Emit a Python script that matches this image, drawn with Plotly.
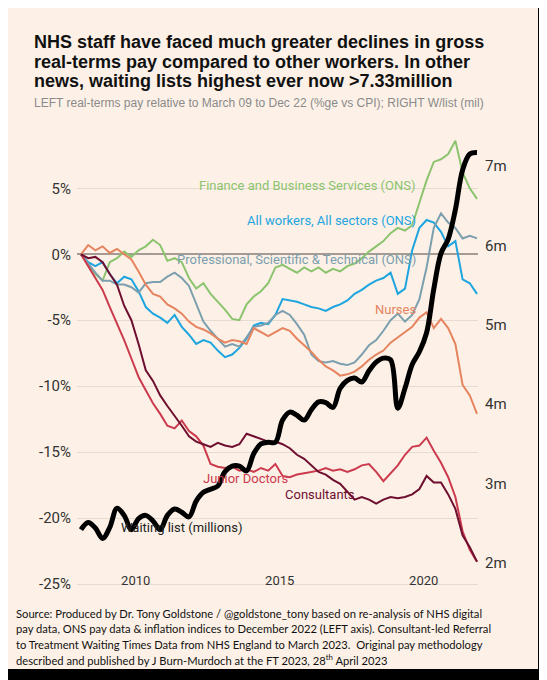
import plotly.graph_objects as go

# quarterly points on the chart's year axis (Mar 09 .. Dec 22 squeezed as drawn)
years = [2008.1 + 0.25 * i for i in range(56)]

finance = [0, -0.8, -1.5, -2.0, -0.6, -0.3, 0.2, -0.2, 0.3, 0.6, 1.1, 0.7, -0.5, -0.3,
           -0.6, -1.8, -2.6, -2.2, -3.0, -3.6, -4.2, -4.9, -5.0, -3.8, -3.2, -2.8, -2.2, -1.0,
           -0.8, -1.1, -1.4, -1.0, -1.3, -1.0, -1.4, -1.1, -1.3, -0.9, -0.7, -0.3, 0.2, 0.6,
           1.0, 1.6, 2.0, 1.8, 2.2, 3.9, 5.6, 7.0, 7.2, 7.6, 8.6, 6.2, 5.0, 4.2]
all_workers = [0, -0.6, -0.9, -0.6, -1.5, -2.2, -1.7, -1.9, -2.8, -4.0, -4.5, -4.8, -5.2, -4.6,
               -5.5, -6.1, -6.8, -6.5, -6.7, -7.3, -7.8, -7.6, -7.1, -6.4, -5.4, -5.2, -5.3, -4.6,
               -3.4, -3.5, -3.6, -3.8, -4.0, -4.1, -4.3, -4.0, -3.8, -3.5, -3.0, -2.7, -2.3, -2.0,
               -1.8, -1.4, -3.0, -2.6, 0.3, 2.0, 2.6, 2.4, 1.7, 0.6, 1.0, -1.9, -2.2, -3.0]
professional = [0, -0.7, -1.4, -2.0, -2.0, -2.3, -2.3, -2.5, -2.9, -2.2, -2.1, -2.1, -1.7, -1.4,
                -1.8, -2.4, -3.8, -5.1, -5.8, -6.4, -7.0, -6.8, -7.0, -6.3, -5.5, -5.4, -5.2, -4.6,
                -4.3, -4.6, -5.3, -6.1, -7.6, -8.1, -8.2, -8.1, -8.3, -8.4, -8.2, -7.6, -6.9, -6.5,
                -5.8, -5.0, -4.5, -5.1, -4.6, -3.4, -1.0, 2.0, 3.1, 2.4, 2.0, 1.2, 1.4, 1.2]
nurses = [0, 0.7, 0.3, 0.6, 0.1, 0.4, 0.0, -0.4, -1.3, -2.3, -3.0, -3.2, -3.8, -4.1,
          -4.5, -5.1, -5.5, -5.7, -6.0, -6.4, -6.7, -6.5, -6.6, -6.8, -5.6, -5.9, -6.2, -5.9,
          -5.6, -5.8, -6.4, -6.9, -7.4, -8.0, -8.5, -8.8, -9.2, -9.1, -8.9, -8.5, -8.0, -7.6,
          -7.3, -6.7, -6.3, -5.9, -5.5, -4.8, -4.4, -5.6, -4.9, -5.6, -6.8, -9.9, -10.7, -12.1]
junior_doctors = [0, -0.9, -1.9, -2.7, -4.0, -5.2, -6.5, -7.9, -9.3, -10.3, -11.3, -12.1, -13.0, -13.2,
                  -12.6, -13.4, -13.8, -14.5, -15.9, -16.1, -16.2, -16.1, -16.4, -16.3, -16.5, -16.2, -16.4, -15.9,
                  -16.8, -16.9, -16.7, -16.6, -16.5, -16.4, -16.2, -16.4, -16.3, -16.5, -16.3, -16.0, -15.9, -16.5,
                  -17.2, -16.6, -16.0, -15.2, -14.6, -14.5, -13.9, -14.9, -15.8, -16.9, -18.4, -21.0, -22.4, -23.3]
consultants = [0, -0.3, -0.2, -0.6, -1.5, -2.3, -3.9, -5.0, -6.8, -8.8, -9.6, -10.7, -11.5, -12.3,
               -13.0, -13.8, -14.2, -14.4, -14.6, -14.3, -14.5, -14.6, -14.4, -13.6, -13.8, -14.0, -14.2, -14.2,
               -14.4, -14.7, -15.2, -15.5, -16.0, -16.5, -16.7, -17.1, -17.4, -18.0, -18.6, -18.4, -18.6, -18.9,
               -18.6, -18.4, -18.5, -18.4, -18.2, -17.8, -16.8, -17.3, -17.3, -18.2, -19.3, -21.3, -22.2, -23.3]
# waiting list, millions (right axis)
waiting_list = [2.42, 2.51, 2.44, 2.31, 2.45, 2.69, 2.60, 2.42, 2.56, 2.60, 2.53, 2.42, 2.60, 2.68,
                2.64, 2.58, 2.78, 2.89, 2.93, 2.97, 3.15, 3.22, 3.22, 3.16, 3.38, 3.50, 3.52, 3.52,
                3.80, 3.90, 3.86, 3.80, 3.93, 4.03, 4.02, 3.96, 4.20, 4.30, 4.33, 4.28, 4.42, 4.53,
                4.58, 4.56, 3.95, 4.20, 4.50, 4.66, 4.90, 5.45, 5.90, 6.08, 6.45, 6.95, 7.15, 7.17]

left_ticks = [5, 0, -5, -10, -15, -20, -25]
right_ticks = [2, 3, 4, 5, 6, 7]
year_ticks = [2010, 2015, 2020]

title_lines = ['NHS staff have faced much greater declines in gross',
               'real-terms pay compared to other workers. In other',
               'news, waiting lists highest ever now >7.33million']
subtitle = 'LEFT real-terms pay relative to March 09 to Dec 22 (%ge vs CPI); RIGHT W/list (mil)'
source_lines = ['Source: Produced by Dr. Tony Goldstone / @goldstone_tony based on re-analysis of NHS digital',
                'pay data, ONS pay data &amp; inflation indices to December 2022 (LEFT axis). Consultant-led Referral',
                'to Treatment Waiting Times Data from NHS England to March 2023.  Original pay methodology',
                'described and published by J Burn-Murdoch at the FT 2023, 28<sup>th</sup> April 2023']

W, H = 547, 680
OFF = 8  # the page puts the figure 8px in from the top-left corner
# plot area in page pixels
PX0, PX1, PY0, PY1 = 77, 478, 135, 592
L, R, T, B = PX0 - OFF, W - (PX1 - OFF), PY0 - OFF, H - (PY1 - OFF)
CREAM = '#fdf1e7'


def px(x, y):
    # page pixel position -> paper coords
    return (x - PX0) / (PX1 - PX0), (PY1 - y) / (PY1 - PY0)


series = [
    ('Finance and Business Services (ONS)', finance, '#8cc36e'),
    ('All workers, All sectors (ONS)', all_workers, '#1ea5e0'),
    ('Professional, Scientific & Technical (ONS)', professional, '#7b9fae'),
    ('Nurses', nurses, '#e5845f'),
    ('Junior Doctors', junior_doctors, '#cc3a4d'),
    ('Consultants', consultants, '#6e0f30'),
]

fig = go.Figure()
for name, vals, col in series:
    fig.add_trace(go.Scatter(x=years, y=vals, mode='lines', name=name,
                             line=dict(color=col, width=2)))
fig.add_trace(go.Scatter(x=years, y=waiting_list, mode='lines', name='Waiting list (millions)',
                         yaxis='y2', line=dict(color='black', width=5, shape='spline')))

ann = []
# series labels
labels = [
    ('Finance and Business Services (ONS)', 418, 185, 'right', '#8cc36e'),
    ('All workers, All sectors (ONS)', 418, 220, 'right', '#1ea5e0'),
    ('Professional, Scientific &amp; Technical (ONS)', 418, 259, 'right', '#7b9fae'),
    ('Nurses', 418, 309, 'right', '#e5845f'),
    ('Junior Doctors', 201, 478, 'left', '#cc3a4d'),
    ('Consultants', 283, 494, 'left', '#6e0f30'),
    ('Waiting list (millions)', 119, 527, 'left', '#222222'),
]
for txt, x, y, anc, col in labels:
    ax, ay = px(x, y)
    ann.append(dict(text=txt, x=ax, y=ay, xref='paper', yref='paper', xanchor=anc, yanchor='middle',
                    showarrow=False, font=dict(family='Roboto', size=13, color=col)))

for i, line in enumerate(title_lines):
    ax, ay = px(32, 42 + 19.5 * i)
    ann.append(dict(text='<b>' + line + '</b>', x=ax, y=ay, xref='paper', yref='paper',
                    xanchor='left', yanchor='middle', showarrow=False,
                    font=dict(family='Liberation Sans', size=18, color='#111111')))
ax, ay = px(32, 103)
ann.append(dict(text=subtitle, x=ax, y=ay, xref='paper', yref='paper', xanchor='left', yanchor='middle',
                showarrow=False, font=dict(family='Liberation Sans', size=12, color='#8a8a8a')))

for i, line in enumerate(source_lines):
    ax, ay = px(14, 613 + 15.5 * i)
    ann.append(dict(text=line, x=ax, y=ay, xref='paper', yref='paper', xanchor='left', yanchor='middle',
                    showarrow=False, font=dict(family='Lato', size=11.2, color='#111111')))

x0, y0 = px(7, 669)
x1, y1 = px(538, 7)

fig.update_layout(
    width=W, height=H,
    margin=dict(l=L, r=R, t=T, b=B),
    paper_bgcolor='black',
    plot_bgcolor='rgba(0,0,0,0)',
    showlegend=False,
    shapes=[dict(type='rect', xref='paper', yref='paper', x0=x0, y0=y0, x1=x1, y1=y1,
                 fillcolor=CREAM, line=dict(width=0), layer='below')],
    annotations=ann,
    # year labels sit level with the -25% line, so the axis floats a little above the bottom
    xaxis=dict(range=[2007.962, 2021.885], tickvals=year_ticks,
               anchor='free', position=px(0, 571)[1],
               showgrid=False, zeroline=False, showline=False, ticks='',
               tickfont=dict(family='Roboto', size=13, color='#333333')),
    yaxis=dict(range=[-25.6, 9.04], tickvals=left_ticks, ticktext=[f'{v}%' for v in left_ticks],
               showgrid=True, gridcolor='#e6dbd1', gridwidth=1,
               zeroline=True, zerolinecolor='#a39b94', zerolinewidth=1.5,
               ticks='', ticklabelstandoff=5,
               tickfont=dict(family='Roboto', size=15, color='#333333')),
    yaxis2=dict(range=[1.635, 7.39], tickvals=right_ticks, ticktext=[f'{v}m' for v in right_ticks],
                overlaying='y', side='right', showgrid=False, zeroline=False, ticks='',
                ticklabelstandoff=6,
                tickfont=dict(family='Roboto', size=15, color='#333333')),
)

fig.write_html('out.html')
